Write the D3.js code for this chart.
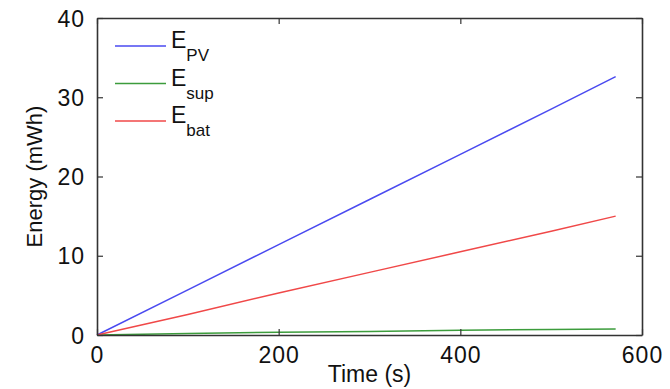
<!DOCTYPE html>
<html>
<head>
<meta charset="utf-8">
<script src="https://cdn.jsdelivr.net/npm/d3@7"></script>
<style>
  body { margin: 0; background: #fff; }
  svg { display: block; font-family: "Liberation Sans", Arial, sans-serif; }
</style>
</head>
<body>
<svg id="chart" width="670" height="389"></svg>
<script>
// time samples (s)
const time = [0, 100, 200, 300, 400, 500, 571];

// energy series (mWh)
const ePV  = [0, 5.7, 11.4, 17.1, 22.8, 28.5, 32.6];
const eSup = [0, 0.2, 0.35, 0.45, 0.6, 0.7, 0.76];
const eBat = [0, 2.6, 5.3, 7.9, 10.5, 13.1, 15.0];

const xTicks = [0, 200, 400, 600];
const yTicks = [0, 10, 20, 30, 40];

const series = [
  { name: "E", sub: "PV",  values: ePV,  color: "#4a4af0" },
  { name: "E", sub: "sup", values: eSup, color: "#3c9c3c" },
  { name: "E", sub: "bat", values: eBat, color: "#f04848" }
];

const margin = { top: 18, right: 28, bottom: 54, left: 97 };
const width = 670, height = 389;
const svg = d3.select("#chart");

const x = d3.scaleLinear().domain([0, 600]).range([margin.left, width - margin.right]);
const y = d3.scaleLinear().domain([0, 40]).range([height - margin.bottom, margin.top]);

const axisColor = "#333";
const tickLen = 6;

// lines
const line = d3.line()
  .x((d, i) => x(time[i]))
  .y(d => y(d));

series.forEach(s => {
  svg.append("path")
    .datum(s.values)
    .attr("fill", "none")
    .attr("stroke", s.color)
    .attr("stroke-width", 1.5)
    .attr("d", line);
});

// axes (MATLAB box style, ticks inward)
const axBottom = svg.append("g")
  .attr("transform", `translate(0,${y(0)})`)
  .call(d3.axisBottom(x).tickValues(xTicks).tickSizeInner(-tickLen).tickSizeOuter(0).tickPadding(12));
const axTop = svg.append("g")
  .attr("transform", `translate(0,${y(40)})`)
  .call(d3.axisTop(x).tickValues(xTicks).tickSizeInner(-tickLen).tickSizeOuter(0).tickFormat(""));
const axLeft = svg.append("g")
  .attr("transform", `translate(${x(0)},0)`)
  .call(d3.axisLeft(y).tickValues(yTicks).tickSizeInner(-tickLen).tickSizeOuter(0).tickPadding(12));
const axRight = svg.append("g")
  .attr("transform", `translate(${x(600)},0)`)
  .call(d3.axisRight(y).tickValues(yTicks).tickSizeInner(-tickLen).tickSizeOuter(0).tickFormat(""));

[axBottom, axTop, axLeft, axRight].forEach(g => {
  g.select(".domain").attr("stroke", axisColor).attr("stroke-width", 1.6);
  g.selectAll(".tick line").attr("stroke", axisColor).attr("stroke-width", 1.2);
  g.selectAll(".tick text")
    .attr("fill", "#111")
    .style("font-size", "23px")
    .style("letter-spacing", "1px");
});
axBottom.selectAll(".tick text").attr("dy", "0.71em");
axLeft.selectAll(".tick text").attr("dy", "0.35em");

// axis titles
svg.append("text")
  .attr("x", x(300))
  .attr("y", 382)
  .attr("text-anchor", "middle")
  .attr("fill", "#111")
  .style("font-size", "23px")
  .text("Time (s)");

svg.append("text")
  .attr("transform", `translate(42,${(y(0) + y(40)) / 2}) rotate(-90)`)
  .attr("text-anchor", "middle")
  .attr("fill", "#111")
  .style("font-size", "22px")
  .text("Energy (mWh)");

// legend
const legend = svg.append("g");
series.forEach((s, i) => {
  const ly = 46 + i * 37.5;
  legend.append("line")
    .attr("x1", 115).attr("x2", 166)
    .attr("y1", ly).attr("y2", ly)
    .attr("stroke", s.color)
    .attr("stroke-width", 1.5);
  const t = legend.append("text")
    .attr("x", 171)
    .attr("y", ly + 2)
    .attr("fill", "#111")
    .style("font-size", "23px");
  t.append("tspan").text(s.name);
  t.append("tspan")
    .attr("dy", 13)
    .style("font-size", "17px")
    .text(s.sub);
});
</script>
</body>
</html>
